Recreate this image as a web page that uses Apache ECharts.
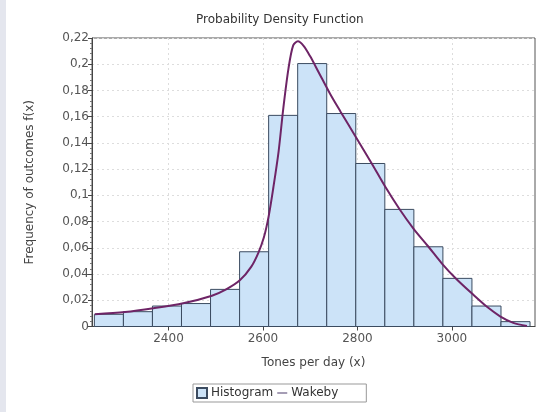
<!DOCTYPE html>
<html>
<head>
<meta charset="utf-8">
<script src="https://cdn.jsdelivr.net/npm/echarts@6/dist/echarts.min.js"></script>
<style>
  html, body { margin: 0; padding: 0; background: #fff; }
  #chart { width: 543px; height: 412px; }
</style>
</head>
<body>
<div id="chart"></div>
<script>
// histogram bins: start, width (tones per day) and density
const binStart = 2243;
const binWidth = 61.5;
const binHeights = [0.0093, 0.0113, 0.0156, 0.0175, 0.0283, 0.057, 0.161, 0.2005,
  0.1624, 0.1243, 0.0893, 0.0608, 0.0367, 0.0156, 0.0037];

// fitted Wakeby pdf
const curveX = [2244, 2308, 2368, 2431, 2492, 2522, 2551, 2575, 2590, 2602, 2612, 2622, 2633, 2643,
  2654, 2664, 2674, 2686, 2700, 2717, 2742, 2764, 2795, 2830, 2859, 2890, 2919, 2950,
  2979, 3010, 3046, 3075, 3102, 3130, 3159];
const curveY = [0.0093, 0.011, 0.0139, 0.0177, 0.0235, 0.0283, 0.0352, 0.0455, 0.056, 0.068, 0.084, 0.106,
  0.1332, 0.1662, 0.1967, 0.2144, 0.2175, 0.214, 0.206, 0.1945, 0.1775, 0.164, 0.1455,
  0.1245, 0.1065, 0.089, 0.0745, 0.061, 0.048, 0.036, 0.024, 0.0148, 0.0078, 0.0028, 0.0004];

const xTicks = [2400, 2600, 2800, 3000];

const bins = binHeights.map((h, i) => [binStart + i * binWidth, binStart + (i + 1) * binWidth, h]);
const curve = curveX.map((x, i) => [x, curveY[i]]);

const font = 'DejaVu Sans';
const chart = echarts.init(document.getElementById('chart'));
chart.setOption({
  animation: false,
  textStyle: { fontFamily: font },
  graphic: [{
    type: 'rect', left: 0, top: 0, shape: { width: 6, height: 412 },
    style: { fill: '#e4e6ee' }, silent: true
  }],
  title: {
    text: 'Probability Density Function',
    left: 191, top: 9,
    textStyle: { fontSize: 12, fontWeight: 'normal', color: '#333', fontFamily: font }
  },
  grid: {
    left: 92, right: 8, top: 38, bottom: 85.5,
    show: true, borderColor: '#555', borderWidth: 1, backgroundColor: '#fff'
  },
  legend: {
    left: 193, top: 384,
    padding: [3, 28, 3, 3],
    borderColor: '#999', borderWidth: 1,
    itemGap: 4, itemWidth: 10, itemHeight: 10,
    textStyle: { fontSize: 12, color: '#333', fontFamily: font, padding: [0, 0, 0, -1] },
    data: [
      { name: 'Histogram', icon: 'rect' },
      { name: 'Wakeby', icon: 'path://M0,9 L20,9 L20,11 L0,11 Z', itemStyle: { color: '#4a3a6a' } }
    ]
  },
  xAxis: {
    type: 'value',
    min: 2238, max: 3176,
    name: 'Tones per day (x)',
    nameLocation: 'middle', nameGap: 30,
    nameTextStyle: { fontSize: 12, color: '#444' },
    axisLine: { show: true, lineStyle: { color: '#444' } },
    axisTick: { show: true, length: 4, customValues: xTicks, lineStyle: { color: '#444' } },
    axisLabel: {
      fontSize: 12, color: '#555', margin: 6, customValues: xTicks,
      formatter: v => String(v)
    },
    splitLine: { show: true, lineStyle: { color: '#ddd', type: [2, 3] } }
  },
  yAxis: {
    type: 'value',
    min: 0, max: 0.22, interval: 0.02,
    name: 'Frequency of outcomes f(x)',
    nameLocation: 'middle', nameGap: 56,
    nameTextStyle: { fontSize: 12, color: '#444' },
    axisLine: { show: true, lineStyle: { color: '#444' } },
    axisTick: { show: true, length: 4, lineStyle: { color: '#444' } },
    minorTick: { show: true, splitNumber: 5, length: 2, lineStyle: { color: '#777' } },
    axisLabel: {
      fontSize: 12, color: '#555', margin: 3,
      formatter: v => String(+v.toFixed(2)).replace('.', ',')
    },
    splitLine: { show: true, lineStyle: { color: '#ddd', type: [2, 3] } }
  },
  series: [
    {
      name: 'Histogram',
      type: 'custom',
      data: bins,
      encode: { x: [0, 1], y: 2 },
      itemStyle: { color: '#cce3f8', borderColor: '#3b4b60', borderWidth: 1 },
      renderItem: (params, api) => {
        const p0 = api.coord([api.value(0), api.value(2)]);
        const p1 = api.coord([api.value(1), 0]);
        return {
          type: 'rect',
          shape: { x: p0[0], y: p0[1], width: p1[0] - p0[0], height: p1[1] - p0[1] },
          style: { fill: '#cce3f8', stroke: '#3b4b60', lineWidth: 1 }
        };
      }
    },
    {
      name: 'Wakeby',
      type: 'line',
      data: curve,
      smooth: 0.3,
      showSymbol: false,
      lineStyle: { color: '#6e2466', width: 2 },
      itemStyle: { color: '#6e2466' },
      z: 3
    }
  ]
});
</script>
</body>
</html>
